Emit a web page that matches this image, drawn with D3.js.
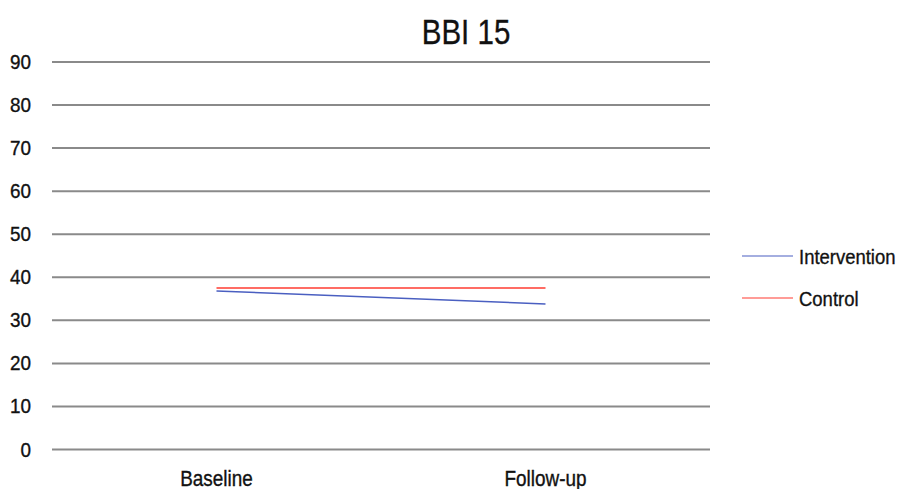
<!DOCTYPE html>
<html><head><meta charset="utf-8">
<script src="https://cdn.jsdelivr.net/npm/d3@7"></script>
<style>body{margin:0;background:#fff}svg{display:block}text{font-family:"Liberation Sans",Arial,sans-serif;fill:#111;stroke:#111;stroke-width:0.35px}</style>
</head><body><svg id="c" width="902" height="489"></svg>
<script>
const categories = ["Baseline", "Follow-up"];
const intervention = [36.7, 33.7];
const control = [37.4, 37.4];
const yTicks = [0,10,20,30,40,50,60,70,80,90];
const seriesNames = ["Intervention", "Control"];
const seriesColors = ["#4a5fc1", "#ff3b30"];

const svg = d3.select("#c");
const x = d3.scalePoint().domain(categories).range([52, 710]).padding(0.5);
const y = d3.scaleLinear().domain([0, 90]).range([449, 61.5]);

function ctext(g, tx, ty, str, size, sx, anchor) {
  return g.append("text")
    .attr("transform", `translate(${tx},${ty}) scale(${sx},1)`)
    .attr("text-anchor", anchor).style("font-size", size + "px").text(str);
}

ctext(svg, 466, 43.5, "BBI 15", 36, 0.82, "middle");

const yAxis = svg.append("g").attr("transform", "translate(52,0)")
  .call(d3.axisLeft(y).tickValues(yTicks).tickSize(-658).tickFormat(""));
yAxis.select(".domain").remove();
yAxis.selectAll(".tick line").attr("stroke", "#8a8a8a").attr("stroke-width", 2);
yTicks.forEach(t => ctext(svg, 31, y(t) + 7.5, String(t), 21, 0.9, "end"));

const xAxis = svg.append("g").attr("transform", "translate(0,449)")
  .call(d3.axisBottom(x).tickSize(0).tickFormat(""));
xAxis.select(".domain").remove();
categories.forEach(c => ctext(svg, x(c), 486, c, 21.5, 0.88, "middle"));

const line = d3.line().x((d, i) => x(categories[i])).y(d => y(d));
[intervention, control].forEach((s, k) => {
  svg.append("path").attr("d", line(s)).attr("fill", "none")
    .attr("stroke", seriesColors[k]).attr("stroke-width", 1.5);
});

const leg = svg.append("g");
seriesNames.forEach((n, k) => {
  const yy = 256 + k * 42;
  leg.append("line").attr("x1", 742).attr("x2", 793).attr("y1", yy).attr("y2", yy)
    .attr("stroke", seriesColors[k]).attr("stroke-width", 1.2);
  ctext(leg, 799, yy + 8, n, 21, 0.88, "start");
});
</script></body></html>
